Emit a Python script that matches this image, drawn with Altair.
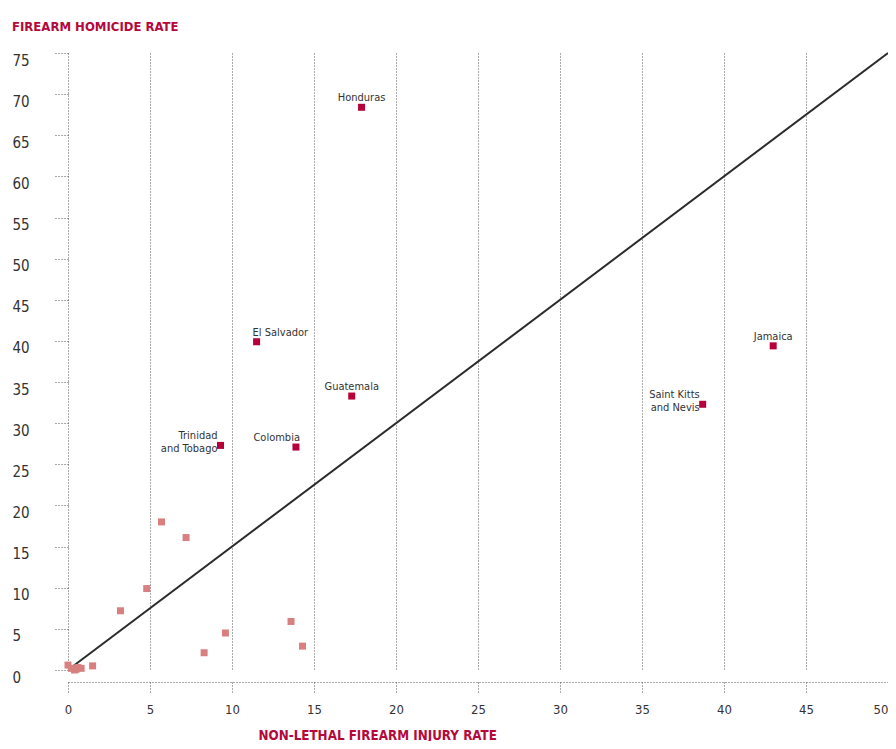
import altair as alt
import pandas as pd

# ---- data ----
countries = ["Honduras", "El Salvador", "Guatemala", "Trinidad\nand Tobago",
             "Colombia", "Jamaica", "Saint Kitts\nand Nevis"]
country_x = [17.9, 11.5, 17.3, 9.3, 13.9, 43.0, 38.7]
country_y = [68.4, 39.9, 33.3, 27.3, 27.1, 39.4, 32.3]

other_x = [0.0, 0.2, 0.5, 0.8, 0.4, 0.6, 1.5, 3.2, 4.8, 5.7, 7.2, 8.3, 9.6, 13.6, 14.3]
other_y = [0.6, 0.2, 0.1, 0.2, 0.0, 0.3, 0.5, 7.2, 9.9, 18.0, 16.1, 2.1, 4.5, 5.9, 2.9]

line_x = [0.3, 50]
line_y = [0.45, 75]

x_ticks = list(range(0, 51, 5))
y_ticks = list(range(0, 76, 5))

labels_center = ["Honduras", "Guatemala", "Jamaica"]
labels_left = ["El Salvador"]
labels_right_over = ["Colombia"]
labels_right_before = ["Trinidad\nand Tobago", "Saint Kitts\nand Nevis"]

# ---- style ----
FONT = "DejaVu Sans Condensed, DejaVu Sans, sans-serif"
RED = "#b5083b"
DARK = "#b7003a"
PINK = "#d88080"
GRID = "#555555"
TEXT = "#333333"

df_c = pd.DataFrame({"country": countries, "x": country_x, "y": country_y})
df_o = pd.DataFrame({"x": other_x, "y": other_y})
df_l = pd.DataFrame({"x": line_x, "y": line_y})

xscale = alt.Scale(domain=[0, 50], nice=False)
yscale = alt.Scale(domain=[0, 75], nice=False)

xaxis = alt.Axis(
    values=x_ticks, grid=True, gridDash=[1, 2], gridColor=GRID, gridWidth=1,
    domain=True, domainDash=[1, 2], domainColor=GRID, domainWidth=1,
    ticks=True, tickDash=[1, 2], tickSize=12, tickColor=GRID, tickWidth=1,
    offset=12, labelFont=FONT, labelFontSize=13, labelColor=TEXT, labelPadding=9,
    labelFlush=False,
    labelAlign={"condition": {"test": "datum.value >= 50", "value": "right"}, "value": "center"},
    title="NON-LETHAL FIREARM INJURY RATE", titleFont=FONT, titleFontSize=13.3,
    titleFontWeight="bold", titleColor=RED, titleAnchor="start", titleAlign="left",
    titleX=190, titleY=57, titleBaseline="alphabetic",
)
yaxis = alt.Axis(
    values=y_ticks, grid=False, domain=False,
    ticks=True, tickDash=[1, 2], tickSize=14, tickColor=GRID, tickWidth=1,
    labelFont=FONT, labelFontSize=15, labelColor=TEXT, labelAlign="left",
    labelBaseline="top", labelPadding=42, labelFlush=False, title=None,
)

line = alt.Chart(df_l).mark_line(color="#2b2b2b", strokeWidth=2).encode(
    x=alt.X("x:Q", scale=xscale, axis=xaxis),
    y=alt.Y("y:Q", scale=yscale, axis=yaxis))

others = alt.Chart(df_o).mark_square(size=49, color=PINK, opacity=1).encode(
    x=alt.X("x:Q", scale=xscale), y=alt.Y("y:Q", scale=yscale))

named = alt.Chart(df_c).mark_square(size=49, color=DARK, opacity=1).encode(
    x=alt.X("x:Q", scale=xscale), y=alt.Y("y:Q", scale=yscale))


def labels(names, align, dx):
    return alt.Chart(df_c).transform_filter(
        alt.FieldOneOfPredicate(field="country", oneOf=names)
    ).mark_text(
        align=align, baseline="bottom", dx=dx, dy=-4, font=FONT, fontSize=11,
        color=TEXT, lineBreak="\n", lineHeight=13,
    ).encode(
        x=alt.X("x:Q", scale=xscale), y=alt.Y("y:Q", scale=yscale),
        text="country:N",
    )


chart = alt.layer(
    line, others, named,
    labels(labels_center, "center", 0),
    labels(labels_left, "left", -4),
    labels(labels_right_over, "right", 4),
    labels(labels_right_before, "right", -3),
).properties(
    width=820, height=617,
    autosize=alt.AutoSizeParams(type="none"),
    padding={"left": 60, "top": 45, "right": 0, "bottom": 71},
    title=alt.TitleParams(
        "FIREARM HOMICIDE RATE", anchor="start", frame="group", dx=-56, offset=5,
        font=FONT, fontSize=13, fontWeight="bold", color=RED,
        baseline="alphabetic",
    ),
).configure(background="white").configure_view(stroke=None)

chart.save("out.html", embed_options={"renderer": "svg", "actions": False})
